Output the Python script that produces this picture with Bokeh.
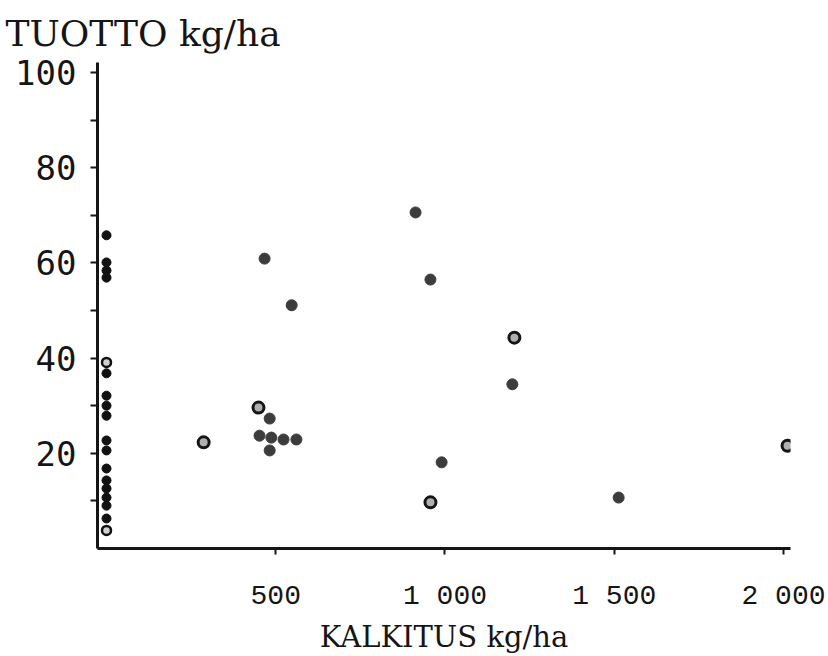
from bokeh.plotting import figure
from bokeh.models import FixedTicker, Range1d, Title
from bokeh.embed import file_html
from bokeh.resources import INLINE

# ---- data ----
x_ticks = [500, 1000, 1500, 2000]
x_tick_labels = ["500", "1 000", "1 500", "2 000"]
y_ticks = [20, 40, 60, 80, 100]
y_minor_ticks = [10, 30, 50, 70, 90]

# plots without liming (KALKITUS = 0)
zero_filled_y = [65.8, 60.1, 58.4, 56.9, 36.8, 32.1, 30.0, 27.9, 22.7, 20.6,
                 16.8, 14.3, 12.6, 10.7, 9.0, 6.3]
zero_ring_y = [39.1, 3.8]

# limed plots, filled markers
limed_filled_x = [913, 467, 547, 957, 1199, 482, 452, 487, 523, 561, 482, 990, 1513]
limed_filled_y = [70.6, 60.9, 51.1, 56.5, 34.5, 27.3, 23.7, 23.3, 22.9, 22.9, 20.6, 18.1, 10.7]

# limed plots, ring markers
ring_x = [1205, 449, 287, 957, 2012]
ring_y = [44.3, 29.6, 22.3, 9.7, 21.6]

title_text = "TUOTTO kg/ha"
x_title_text = "KALKITUS kg/ha"

# ---- figure ----
p = figure(width=828, height=656,
           x_range=Range1d(-26.6, 2020.7), y_range=Range1d(0, 102.1),
           output_backend="svg", toolbar_location=None,
           min_border_left=97, min_border_right=38,
           min_border_top=62, min_border_bottom=108)
p.grid.visible = False
p.outline_line_color = None
p.background_fill_color = "white"
p.border_fill_color = "white"

ink = "#151515"

p.title = Title(text=title_text, align="left", offset=-92, standoff=18,
                text_font="DejaVu Serif", text_font_size="36px",
                text_font_style="normal", text_color=ink)

xa = p.xaxis[0]
xa.ticker = FixedTicker(ticks=x_ticks)
xa.major_label_overrides = dict(zip(x_ticks, x_tick_labels))
xa.axis_line_width = 3
xa.axis_line_color = ink
xa.major_tick_in = 0
xa.major_tick_out = 6
xa.major_tick_line_width = 2
xa.major_tick_line_color = ink
xa.minor_tick_out = 0
xa.minor_tick_in = 0
xa.major_label_standoff = 26
xa.major_label_text_font = "Liberation Mono"
xa.major_label_text_font_size = "28px"
xa.major_label_text_color = ink
xa.axis_label = x_title_text
xa.axis_label_standoff = 5
xa.axis_label_text_font = "DejaVu Serif"
xa.axis_label_text_font_size = "29px"
xa.axis_label_text_font_style = "normal"
xa.axis_label_text_color = ink

ya = p.yaxis[0]
ya.ticker = FixedTicker(ticks=y_ticks, minor_ticks=y_minor_ticks)
ya.axis_line_width = 3
ya.axis_line_color = ink
ya.major_tick_in = 0
ya.major_tick_out = 7
ya.major_tick_line_width = 2
ya.major_tick_line_color = ink
ya.minor_tick_in = 0
ya.minor_tick_out = 7
ya.minor_tick_line_width = 2
ya.minor_tick_line_color = ink
ya.major_label_standoff = 14
ya.major_label_text_font = "DejaVu Sans Mono"
ya.major_label_text_font_size = "34px"
ya.major_label_text_color = ink

# ---- points ----
p.scatter([0] * len(zero_filled_y), zero_filled_y, size=9,
          fill_color="#111111", line_color="#111111", line_width=1)
p.scatter([0] * len(zero_ring_y), zero_ring_y, size=9,
          fill_color="#cfcfcf", line_color="#111111", line_width=2.5)
p.scatter(limed_filled_x, limed_filled_y, size=11,
          fill_color="#3c3c3c", line_color="#3c3c3c", line_width=1)
p.scatter(ring_x, ring_y, size=11,
          fill_color="#b0b0b0", line_color="#151515", line_width=3)

open("out.html", "w").write(file_html(p, INLINE))
